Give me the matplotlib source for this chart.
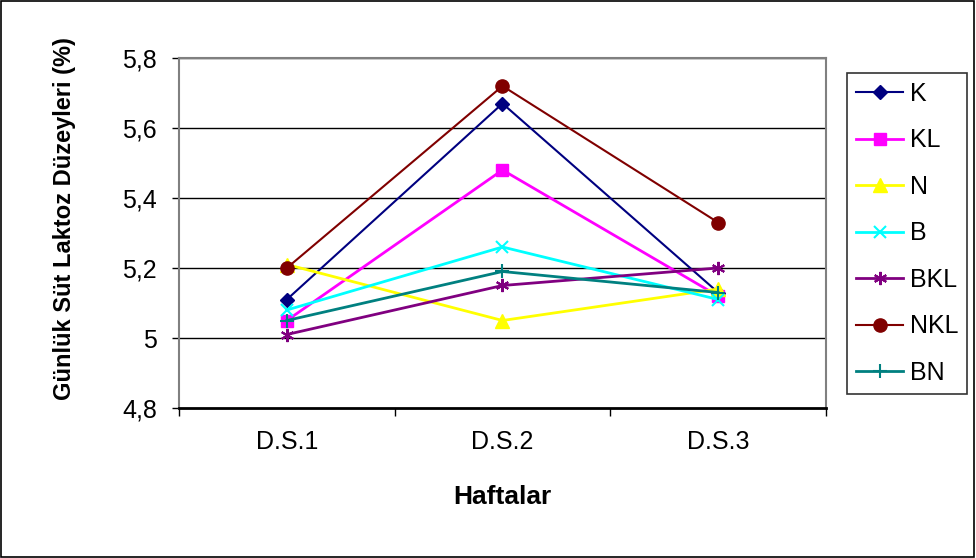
import matplotlib.pyplot as plt
from matplotlib.patches import Rectangle

plt.rcParams['font.family'] = ['Liberation Sans', 'DejaVu Sans']

# Haftalık ölçüm noktaları
weeks = ['D.S.1', 'D.S.2', 'D.S.3']

# Grup bazında günlük süt laktoz düzeyleri (%)
k_vals = [5.11, 5.67, 5.13]
kl_vals = [5.05, 5.48, 5.12]
n_vals = [5.21, 5.05, 5.14]
b_vals = [5.08, 5.26, 5.11]
bkl_vals = [5.01, 5.15, 5.20]
nkl_vals = [5.20, 5.72, 5.33]
bn_vals = [5.05, 5.19, 5.13]

y_ticks = [4.8, 5.0, 5.2, 5.4, 5.6, 5.8]
y_tick_labels = ['4,8', '5', '5,2', '5,4', '5,6', '5,8']

series = [
    ('K', k_vals, '#000080', 'D', 7.5, 1.5),
    ('KL', kl_vals, '#FF00FF', 's', 8.5, 2),
    ('N', n_vals, '#FFFF00', '^', 9.5, 2),
    ('B', b_vals, '#00FFFF', 'x', 8.5, 2),
    ('BKL', bkl_vals, '#800080', (6, 2, 0), 9.5, 2),
    ('NKL', nkl_vals, '#800000', 'o', 9.5, 1.5),
    ('BN', bn_vals, '#008080', '+', 9.5, 2),
]

fig = plt.figure(figsize=(9.76, 5.58), dpi=100)
ax = fig.add_axes([179 / 976, 1 - 408 / 558, (826 - 179) / 976, (408 - 58) / 558])

x = range(len(weeks))
for name, vals, color, marker, ms, lw in series:
    thin = marker in ('x', '+') or isinstance(marker, tuple)
    ax.plot(x, vals, color=color, marker=marker, markersize=ms, linewidth=lw,
            markeredgewidth=1.5 if thin else 1,
            markeredgecolor=color, label=name, zorder=3)

ax.set_xlim(-0.5, 2.5)
ax.set_ylim(4.8, 5.8)
ax.set_yticks(y_ticks)
ax.set_yticklabels(y_tick_labels, fontsize=18)
ax.set_xticks(list(x))
ax.set_xticklabels(weeks, fontsize=18)
ax.set_xticks([-0.5, 0.5, 1.5, 2.5], minor=True)
ax.tick_params(axis='x', which='major', length=0, pad=16)
ax.tick_params(axis='x', which='minor', length=6, width=1, direction='out', color='black')
ax.tick_params(axis='y', length=5, width=1, direction='out', color='black', pad=11)

for y in y_ticks[1:]:
    ax.axhline(y, color='black', linewidth=1, zorder=1)

for side in ['top', 'right', 'left']:
    ax.spines[side].set_color('#808080')
    ax.spines[side].set_linewidth(1.5)
ax.spines['bottom'].set_color('black')
ax.spines['bottom'].set_linewidth(2)

ax.set_ylabel('Günlük Süt Laktoz Düzeyleri (%)', fontsize=17, fontweight='bold')
ax.yaxis.set_label_coords(-0.159, 0.54)
ax.set_xlabel('Haftalar', fontsize=19, fontweight='bold', labelpad=22)

leg = fig.legend(loc='upper left', bbox_to_anchor=(847 / 976, 1 - 73 / 558),
                 frameon=True, fancybox=False, edgecolor='black', fontsize=18,
                 handlelength=1.9, labelspacing=0.9, borderpad=0.35,
                 handletextpad=0.25, borderaxespad=0)
leg.get_frame().set_linewidth(1.2)

# çerçeve
fig.add_artist(Rectangle((0.001, 0.002), 0.997, 0.996, transform=fig.transFigure,
                         fill=False, edgecolor='black', linewidth=1.2))

fig.savefig('out.png', dpi=100)
